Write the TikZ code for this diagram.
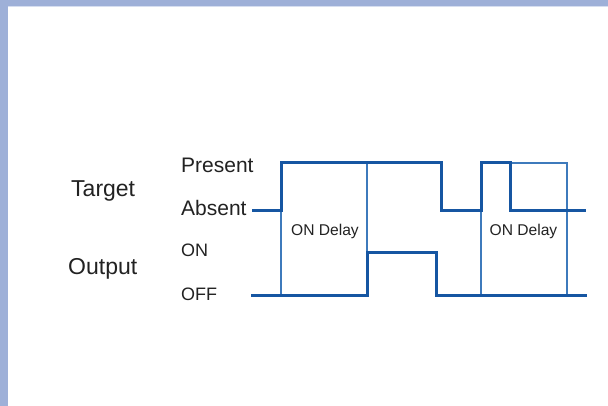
\documentclass[tikz,border=0pt]{standalone}
\usepackage{fontspec}
\setmainfont{Liberation Sans}
\definecolor{band}{RGB}{158,176,216}
\definecolor{bandlight}{RGB}{214,222,240}
\definecolor{sigblue}{RGB}{22,86,162}
\definecolor{boxblue}{RGB}{62,122,188}
\definecolor{txt}{RGB}{34,34,34}
\tikzset{
  sig/.style={draw=sigblue,line width=3pt,line join=miter},
  delaybox/.style={draw=boxblue,line width=1.2pt},
  lbl/.style={anchor=base west,inner sep=0pt,text=txt},
}
\begin{document}
\begin{tikzpicture}[x=1pt,y=-1pt]
\useasboundingbox (0,0) rectangle (608,406);
\fill[white] (0,0) rectangle (608,406);
% frame bands
\fill[band] (0,0) rectangle (608,6);
\fill[band] (0,0) rectangle (8,406);
\fill[bandlight] (8,6) rectangle (608,7);
% delay boxes
\draw[delaybox] (281,163) rectangle (367,295);
\draw[delaybox] (481,163) rectangle (567,295);
% signals
\draw[sig] (252,211) -- (281,211) -- (281,163) -- (441,163) -- (441,211) -- (481,211) -- (481,163) -- (510,163) -- (510,211) -- (586,211);
\draw[sig] (251,295) -- (367,295) -- (367,253) -- (436,253) -- (436,295) -- (587,295);
% labels
\node[lbl,font=\fontsize{23}{23}\selectfont] (target) at (71,196.5) {Target};
\node[lbl,font=\fontsize{23}{23}\selectfont] (output) at (68,275) {Output};
\node[lbl,font=\fontsize{21}{21}\selectfont] (present) at (181,172.5) {Present};
\node[lbl,font=\fontsize{21}{21}\selectfont] (absent) at (181,215.5) {Absent};
\node[lbl,font=\fontsize{18}{18}\selectfont] (on) at (181,257) {ON};
\node[lbl,font=\fontsize{18}{18}\selectfont] (off) at (181,300.5) {OFF};
\node[lbl,font=\fontsize{15.6}{15.6}\selectfont] (d1) at (291,236) {ON Delay};
\node[lbl,font=\fontsize{15.6}{15.6}\selectfont] (d2) at (489.5,236) {ON Delay};
\end{tikzpicture}
\end{document}
